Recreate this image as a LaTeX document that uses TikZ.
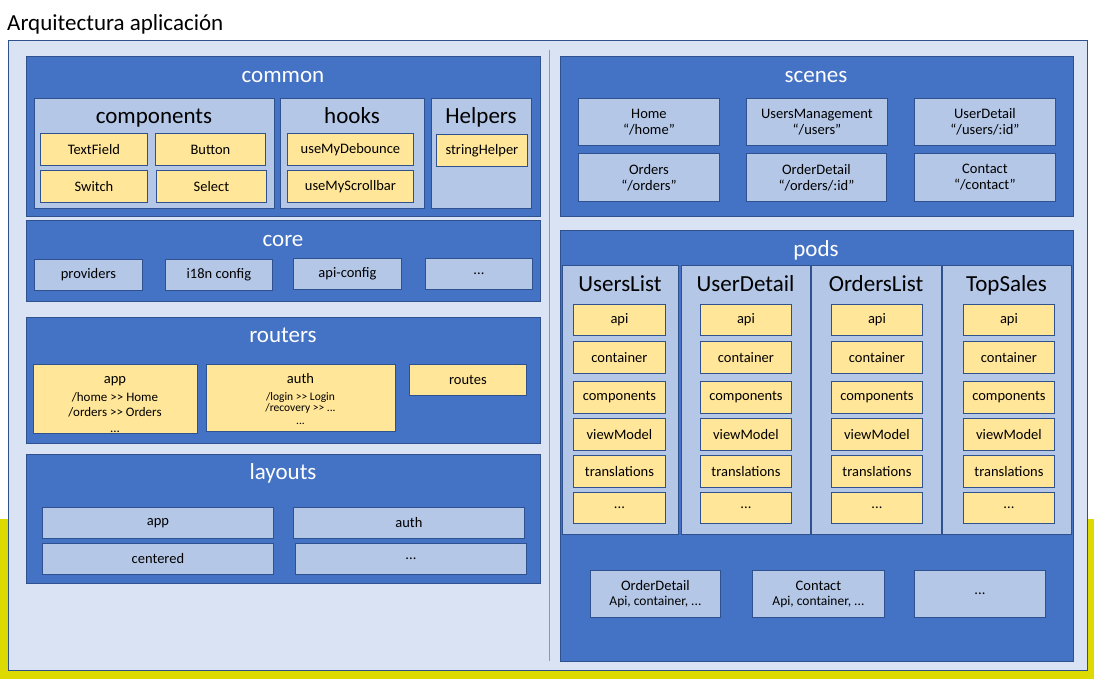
\documentclass[tikz,border=0pt]{standalone}
\usepackage{fontspec}
\setmainfont{Carlito}
\definecolor{ybg}{HTML}{DCDA00}
\definecolor{outerfill}{HTML}{DAE3F3}
\definecolor{bord}{HTML}{2F528F}
\definecolor{secfill}{HTML}{4472C4}
\definecolor{litefill}{HTML}{B4C7E7}
\definecolor{yelfill}{HTML}{FFE699}
\definecolor{divcol}{HTML}{8497C8}
\newcommand\bx[7]{%
  \pgfmathsetmacro\bxw{#4-#2}\pgfmathsetmacro\bxh{#5-#3}%
  \node[#6, minimum width=\bxw pt, minimum height=\bxh pt, anchor=north west, inner sep=0pt, align=center] (#1) at (#2,#3) {#7};}
\newcommand\bigT{\fontsize{14.5}{17}\selectfont}
\begin{document}
\begin{tikzpicture}[x=1pt,y=-1pt,
  outer/.style={draw=bord, fill=outerfill, line width=1.2pt},
  sec/.style={draw=bord, fill=secfill, line width=1pt},
  lite/.style={draw=bord, fill=litefill, line width=0.9pt, font=\fontsize{14.5}{17}\selectfont},
  yel/.style={draw=bord, fill=yelfill, line width=0.9pt, font=\fontsize{14.5}{17}\selectfont},
  sectitle/.style={text=white, font=\fontsize{23}{27}\selectfont, inner sep=0pt, anchor=base},
  subtitle/.style={text=black, font=\fontsize{23}{27}\selectfont, inner sep=0pt, anchor=base},
  routetext/.style={inner sep=0pt, align=center},
  divider/.style={draw=divcol, line width=1pt}]
\useasboundingbox (0,0) rectangle (1094,679);
\fill[white] (0,0) rectangle (1094,519);
\fill[ybg] (0,519) rectangle (1094,679);
\node[anchor=base west, inner sep=0pt, font=\fontsize{23}{27}\selectfont] (title) at (7,31) {Arquitectura aplicación};
\bx{frame}{8}{40}{1087}{670}{outer}{}
\coordinate (dtop) at (549,50);
\coordinate (dbot) at (549,661);
\draw[divider] (dtop) -- (dbot);
% common
\bx{common}{26}{56}{540}{216}{sec}{}
\node[sectitle] (commonT) at (283,82.5) {common};
\bx{components}{34}{98}{274}{208}{lite}{}
\node[subtitle] (componentsT) at (154,124) {components};
\bx{textfield}{40}{133}{147}{165}{yel}{TextField}
\bx{button}{155}{133}{265}{165}{yel}{Button}
\bx{switch}{40}{170}{147}{202}{yel}{Switch}
\bx{select}{156}{170}{266}{202}{yel}{Select}
\bx{hooks}{280}{98}{424}{208}{lite}{}
\node[subtitle] (hooksT) at (352,124) {hooks};
\bx{debounce}{287}{133}{413}{165}{yel}{useMyDebounce}
\bx{scrollbar}{287}{170}{413}{202}{yel}{useMyScrollbar}
\bx{helpers}{431}{98}{531}{208}{lite}{}
\node[subtitle] (helpersT) at (481,124) {Helpers};
\bx{stringhelper}{436}{134}{527}{166}{yel}{stringHelper}
% core
\bx{core}{26}{220}{540}{301}{sec}{}
\node[sectitle] (coreT) at (283,246.5) {core};
\bx{providers}{34}{259}{142}{290}{lite}{providers}
\bx{i18n}{165}{259}{272}{290}{lite}{i18n config}
\bx{apiconfig}{293}{258}{401}{289}{lite}{api-config}
\bx{coremore}{425}{258}{532}{289}{lite}{...}
% routers
\bx{routers}{26}{317}{540}{443}{sec}{}
\node[sectitle] (routersT) at (283,342.5) {routers};
\bx{rapp}{33}{364}{197}{433}{yel}{}
\node[routetext, font=\fontsize{13}{15.5}\selectfont] (rappT) at (115,404.5) {\bigT app\\[2.5pt]/home >{}> Home\\/orders >{}> Orders\\...};
\bx{rauth}{206}{364}{395}{431}{yel}{}
\node[routetext, font=\fontsize{11.5}{13.5}\selectfont] (rauthT) at (300.5,399.5) {\bigT auth\\[3.5pt]/login >{}> Login\\[-3pt]/recovery >{}> ...\\...};
\bx{routes}{409}{364}{526}{395}{yel}{routes}
% layouts
\bx{layouts}{26}{454}{540}{583}{sec}{}
\node[sectitle] (layoutsT) at (283,479.5) {layouts};
\bx{lapp}{42}{507}{273}{538}{lite}{app}
\bx{lauth}{293}{507}{524}{538}{lite}{auth}
\bx{lcentered}{42}{543}{273}{574}{lite}{centered}
\bx{lmore}{295}{543}{526}{574}{lite}{...}
% scenes
\bx{scenes}{560}{56}{1073}{216}{sec}{}
\node[sectitle] (scenesT) at (816,82.5) {scenes};
\bx{home}{578}{98}{719}{145}{lite}{Home\\[-1pt]“/home”}
\bx{usersmgmt}{746}{98}{887}{145}{lite}{UsersManagement\\[-1pt]“/users”}
\bx{userdetail}{914}{98}{1055}{145}{lite}{UserDetail\\[-1pt]“/users/:id”}
\bx{orders}{578}{153}{719}{201}{lite}{Orders\\[-1pt]“/orders”}
\bx{orderdetail}{746}{153}{886}{201}{lite}{OrderDetail\\[-1pt]“/orders/:id”}
\bx{contact}{914}{153}{1055}{201}{lite}{Contact\\[-1pt]“/contact”}
% pods
\bx{pods}{560}{230}{1073}{661}{sec}{}
\node[sectitle] (podsT) at (816,256.5) {pods};
\foreach \nm/\cl/\cr/\il/\ir/\ttl in {c1/562/678/573/665/UsersList, c2/681/810/700/791/UserDetail, c3/811/941/831/922/OrdersList, c4/942/1071/963/1054/TopSales}{
  \bx{\nm}{\cl}{265}{\cr}{534}{lite}{}
  \node[subtitle] (\nm T) at ({(\cl+\cr)/2},291) {\ttl};
  \bx{\nm api}{\il}{304}{\ir}{335}{yel}{api}
  \bx{\nm cont}{\il}{341}{\ir}{373}{yel}{container}
  \bx{\nm comp}{\il}{381}{\ir}{413}{yel}{components}
  \bx{\nm vm}{\il}{418}{\ir}{450}{yel}{viewModel}
  \bx{\nm tr}{\il}{455}{\ir}{487}{yel}{translations}
  \bx{\nm more}{\il}{492}{\ir}{523}{yel}{...}
}
\bx{porderdetail}{590}{570}{720}{617}{lite,font=\fontsize{13.5}{16}\selectfont}{\bigT OrderDetail\\[-1pt]Api, container, ...}
\bx{pcontact}{752}{570}{884}{617}{lite,font=\fontsize{13.5}{16}\selectfont}{\bigT Contact\\[-1pt]Api, container, ...}
\bx{pmore}{914}{570}{1045}{617}{lite}{...}
\end{tikzpicture}
\end{document}
